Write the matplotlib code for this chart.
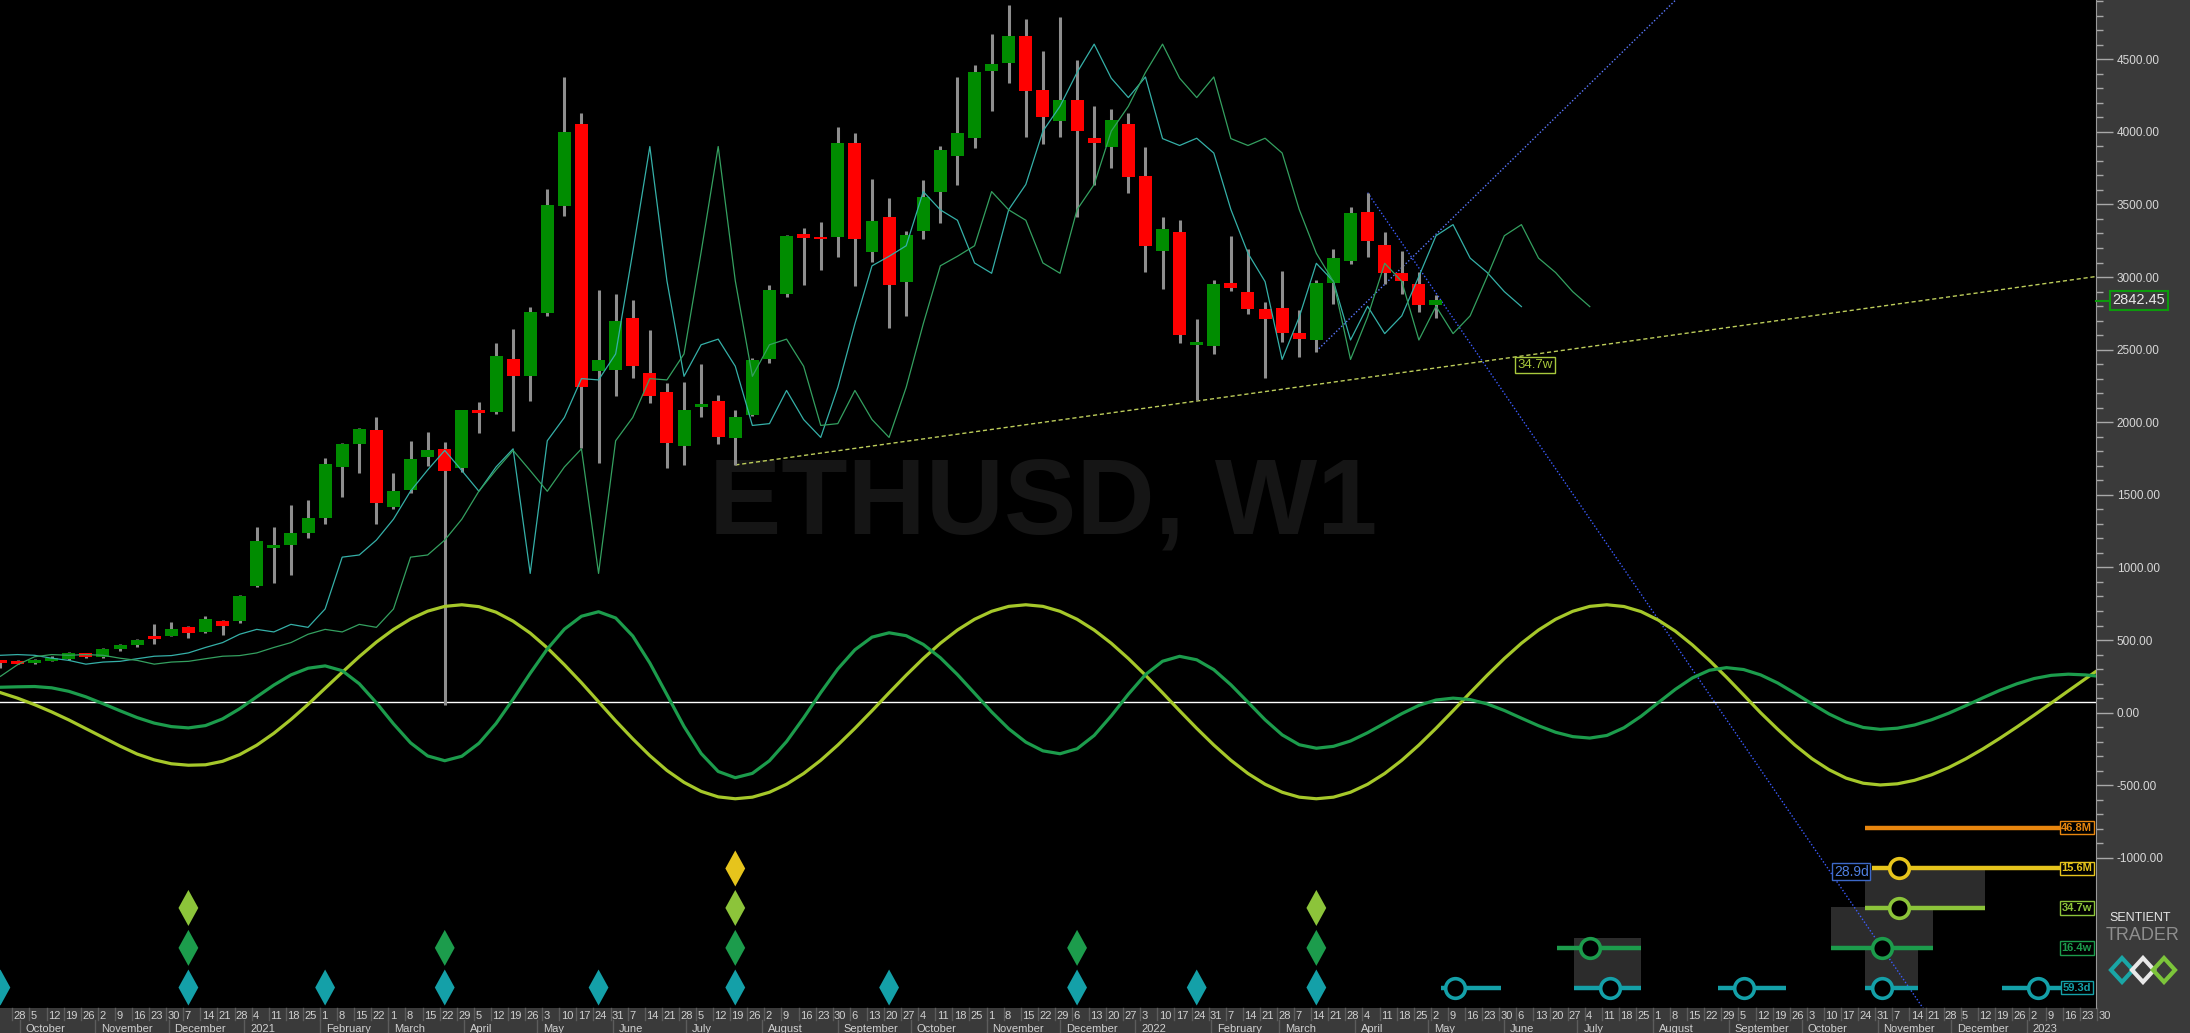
import pandas as pd
import matplotlib
matplotlib.use('Agg')
from matplotlib import pyplot as plt
from matplotlib.patches import Rectangle, Polygon
from matplotlib.lines import Line2D
from matplotlib.transforms import blended_transform_factory

plt.rcParams['font.family'] = ['Liberation Sans', 'DejaVu Sans']

# weekly bars, week index 0 = 2020-09-28, first bar is week -1
FIRST_BAR = -1
opens = [357, 352, 342, 366, 370, 408, 385, 440, 466, 520, 530, 588, 554, 634, 634, 872, 1140, 1155,
         1238, 1340, 1694, 1849, 1947, 1419, 1534, 1763, 1816, 1687, 2085, 2073, 2434, 2321, 2755, 3492,
         4054, 2355, 2360, 2716, 2337, 2207, 1839, 2110, 2147, 1894, 2050, 2437, 2884, 3297, 3274, 3278,
         3926, 3175, 3412, 2969, 3320, 3588, 3836, 3956, 4422, 4477, 4660, 4289, 4077, 4220, 3960, 3898,
         4054, 3696, 3182, 3311, 2540, 2526, 2961, 2899, 2780, 2785, 2617, 2567, 2961, 3113, 3446, 3221,
         3030, 2952, 2808]
highs = [362, 362, 372, 388, 415, 412, 448, 470, 510, 610, 622, 595, 666, 640, 808, 1277, 1277, 1429,
         1465, 1752, 1860, 1963, 2034, 1649, 1873, 1935, 1867, 2085, 2142, 2544, 2641, 2792, 3607, 4378,
         4128, 2911, 2884, 2842, 2636, 2269, 2275, 2399, 2188, 2085, 2441, 2946, 3290, 3340, 3382, 4036,
         3990, 3676, 3543, 3318, 3669, 3905, 4376, 4461, 4672, 4874, 4777, 4557, 4789, 4495, 4178, 4158,
         4128, 3893, 3411, 3393, 2712, 2980, 3283, 3194, 2830, 3042, 2773, 2980, 3194, 3481, 3581, 3311,
         3180, 3037, 2877]
lows = [306, 335, 335, 355, 362, 374, 375, 428, 455, 470, 525, 517, 550, 535, 620, 865, 895, 948,
        1200, 1300, 1483, 1649, 1300, 1400, 1511, 1699, 51, 1660, 1924, 2057, 1942, 2149, 2734, 3420,
        1821, 1722, 2183, 2303, 2135, 1687, 1706, 2039, 1849, 1706, 2040, 2410, 2865, 2946, 3049, 3141,
        2935, 3106, 2651, 2734, 3260, 3370, 3634, 3891, 4146, 4334, 3962, 3915, 3967, 3412, 3634, 3754,
        3580, 3037, 2916, 2544, 2153, 2470, 2906, 2746, 2303, 2555, 2448, 2486, 2815, 3088, 3141, 2950,
        2882, 2762, 2716]
closes = [350, 342, 366, 370, 408, 385, 440, 466, 500, 512, 577, 547, 646, 597, 804, 1183, 1148, 1235,
          1340, 1713, 1850, 1955, 1442, 1526, 1747, 1809, 1667, 2085, 2066, 2457, 2321, 2758, 3497, 3997,
          2245, 2429, 2700, 2390, 2183, 1860, 2085, 2124, 1901, 2039, 2429, 2911, 3283, 3271, 3264, 3926,
          3262, 3386, 2946, 3289, 3550, 3875, 3990, 4410, 4466, 4660, 4284, 4105, 4220, 4006, 3926, 4082,
          3691, 3216, 3331, 2601, 2550, 2952, 2927, 2780, 2711, 2613, 2571, 2961, 3130, 3439, 3251, 3030,
          2973, 2808, 2842]
last_price = 2842.45

# median prices of the weeks -10 .. -2 (feed the start of the FLD lines)
early_mids = [250, 330, 385, 400, 395, 400, 395, 375, 360]
fld_shifts = {'59.3d': 5, '16.4w': 9}

# cycle waves, one value per week from week -1
WAVE_START = -1
wave_34w = [138, 100, 55, 5, -50, -110, -170, -230, -285, -325, -352, -362,
            -359, -335, -289, -224, -142, -47, 57, 168, 278, 386, 486, 573, 645, 699, 732, 743,
            730, 692, 630, 548, 446, 330, 206, 75, -56, -180, -296, -398, -480, -542, -580, -593,
            -582, -548, -493, -419, -328, -223, -108, 13, 137, 258, 373, 478, 569, 643, 698, 732, 743,
            732, 698, 643, 569, 478, 373, 258, 137, 13, -108, -223, -328, -419, -493, -548, -582, -593,
            -582, -548, -493, -419, -328, -223, -108, 13, 137, 258, 373, 478, 569, 643, 698, 732, 743,
            731, 696, 638, 562, 467, 360, 244, 122, -1, -115, -223, -317, -393, -451, -486, -498,
            -490, -466, -428, -378, -318, -250, -176, -98, -17, 66, 150, 233, 315]
wave_16w = [175, 178, 180, 171, 147, 109, 62, 13, -34, -72, -96, -105,
            -89, -43, 27, 109, 190, 260, 306, 322,
            289, 199, 68, -77, -208, -298, -331,
            -300, -211, -75, 93, 271, 438, 575, 664, 695,
            652, 528, 342, 124, -95, -281, -405, -448,
            -418, -331, -199, -36, 138, 301, 433, 520, 550,
            530, 470, 378, 262, 134, 5, -111, -203, -263, -283,
            -249, -157, -22, 127, 262, 354, 388,
            364, 296, 192, 72, -49, -153, -221, -245,
            -232, -195, -138, -73, -7, 50, 87, 100,
            90, 60, 15, -38, -90, -135, -165, -175,
            -157, -104, -25, 68, 160, 239, 292, 310,
            297, 260, 204, 134, 61, -9, -65, -102, -115,
            -107, -85, -49, -4, 48, 102, 154, 199, 235, 257, 265, 260, 248]
wave_zero = 75

# cycle trough markers (week index)
trough_rows = {
    'yellow': [42],
    'lime': [10, 42, 76],
    'green': [10, 25, 42, 62, 76],
    'teal': [-1, 10, 18, 25, 34, 42, 51, 62, 69, 76],
}
row_levels = {'orange': -792, 'yellow': -1073, 'lime': -1345, 'green': -1620, 'teal': -1893}
row_labels = {'orange': '46.8M', 'yellow': '15.6M', 'lime': '34.7w', 'green': '16.4w', 'teal': '59.3d'}
# projected troughs: row -> list of (circle week or None, line start, line end)
projections = {
    'orange': [(None, 108.1, 119.6)],
    'yellow': [(110.1, 108.5, 119.6)],
    'lime': [(110.1, 108.1, 115.1)],
    'green': [(92.0, 90.1, 95.0), (109.1, 106.1, 112.1)],
    'teal': [(84.1, 83.3, 86.8), (93.2, 91.1, 95.0), (101.0, 99.5, 103.5),
             (109.1, 108.1, 111.2), (118.2, 116.1, 119.6)],
}
# grey range boxes (week0, week1, value0, value1)
range_boxes = [(108.1, 115.1, -1084, -1338), (106.1, 112.1, -1338, -1621),
               (108.1, 111.2, -1621, -1889), (91.1, 95.0, -1555, -1882)]

trend_34w = ([42, 121.7], [1706, 3005])
down_line = ([79, 111.5], [3581, -2035])
up_line = ([76, 98], [2490, 5020])

colors = {'orange': '#e8860e', 'yellow': '#e6c41c', 'lime': '#8cc43a',
          'green': '#1c9c4c', 'teal': '#14a0a8'}

W, H = 2190, 1033
PLOT_R, PLOT_B = 2096, 1008
X0, DX = 17.5, 17.09
Y_TOP, Y_BOT = 4908, -2034

fig = plt.figure(figsize=(W / 100, H / 100), dpi=100, facecolor='#3a3a3a')
ax = fig.add_axes([0, (H - PLOT_B) / H, PLOT_R / W, PLOT_B / H], facecolor='black')
ax.set_xlim(-X0 / DX, (PLOT_R - X0) / DX)
ax.set_ylim(Y_BOT, Y_TOP)

ax.text(60, 1430, 'ETHUSD, W1', color='#151515', fontsize=78, fontweight='bold',
        ha='center', va='center', zorder=0)

# candles
for k, (o, h, l, c) in enumerate(zip(opens, highs, lows, closes)):
    x = FIRST_BAR + k
    ax.vlines(x, l, h, color='#8e8e8e', lw=2.2, zorder=3)
    lo, hi = min(o, c), max(o, c)
    if hi - lo < 20:
        mid = (hi + lo) / 2
        lo, hi = mid - 10, mid + 10
    col = '#008c00' if c >= o else '#ff0000'
    ax.add_patch(Rectangle((x - 0.38, lo), 0.76, hi - lo, facecolor=col, edgecolor='none', zorder=4))

# FLD lines: median price pushed forward
mids = early_mids + [(h + l) / 2 for h, l in zip(highs, lows)]
mid_weeks = list(range(FIRST_BAR - len(early_mids), FIRST_BAR + len(highs)))
ax.plot([w + fld_shifts['59.3d'] for w in mid_weeks], mids, color='#35b0a8', lw=0.9, zorder=5)
ax.plot([w + fld_shifts['16.4w'] for w in mid_weeks], mids, color='#34a060', lw=0.9, zorder=5)

# trend lines
ax.plot(*trend_34w, color='#bccc5a', lw=1.0, ls=(0, (3, 2)), zorder=2)
ax.plot(*down_line, color='#3c5cff', lw=1.0, ls=(0, (1, 1.5)), zorder=2)
ax.plot(*up_line, color='#5a78ff', lw=1.0, ls=(0, (1, 1.5)), zorder=2)
ax.text(88.8, 2395, '34.7w', color='#a8c83c', fontsize=9.5, ha='center', va='center', zorder=6,
        bbox=dict(facecolor='black', edgecolor='#a8c83c', pad=1.5, lw=1))

# cycle waves
ax.axhline(wave_zero, color='white', lw=1.0, zorder=2)
ax.plot(list(range(WAVE_START, WAVE_START + len(wave_34w))), wave_34w, color='#a6c82a', lw=2.3, zorder=3)
ax.plot(list(range(WAVE_START, WAVE_START + len(wave_16w))), wave_16w, color='#1c9c4c', lw=2.3, zorder=3)

# grey boxes, projections, diamonds
for x0, x1, v0, v1 in range_boxes:
    ax.add_patch(Rectangle((x0, v1), x1 - x0, v0 - v1, facecolor='#2c2c2c', edgecolor='none', zorder=1))
for row, items in projections.items():
    y = row_levels[row]
    for cx, xs, xe in items:
        ax.plot([xs, xe], [y, y], color=colors[row], lw=3.2, solid_capstyle='butt', zorder=6)
        if cx is not None:
            ax.scatter([cx], [y], s=200, facecolor='black', edgecolor=colors[row], lw=2.6, zorder=7)
for row, weeks in trough_rows.items():
    y = row_levels[row]
    for w in weeks:
        ax.add_patch(Polygon([(w - 0.58, y), (w, y + 124), (w + 0.58, y), (w, y - 124)],
                             closed=True, facecolor=colors[row], edgecolor='none', zorder=6))
for row, lab in row_labels.items():
    ax.text(120.5, row_levels[row], lab, color=colors[row], fontsize=8, fontweight='bold',
            ha='center', va='center', zorder=8,
            bbox=dict(facecolor='black', edgecolor=colors[row], pad=1.2, lw=1))
ax.text(107.3, -1094, '28.9d', color='#4f7fe0', fontsize=10, ha='center', va='center', zorder=8,
        bbox=dict(facecolor='black', edgecolor='#3c68c8', pad=1.2, lw=1))

# right price axis
for s in ['top', 'left', 'bottom']:
    ax.spines[s].set_visible(False)
ax.spines['right'].set_color('#9a9a9a')
ax.yaxis.tick_right()
ax.set_yticks(range(-1000, 4501, 500))
ax.set_yticks(range(-1000, 4901, 100), minor=True)
ax.set_yticklabels([f'{v:.2f}' for v in range(-1000, 4501, 500)])
ax.tick_params(axis='y', which='major', length=12, width=1, color='#a8a8a8',
               labelcolor='#d8d8d8', labelsize=8.5, pad=3)
ax.tick_params(axis='y', which='minor', length=5, width=1, color='#a8a8a8')
ax.set_xticks([])

fig.text(2139 / W, 1 - 300.5 / H, f'{last_price:.2f}', color='#e8e8e8', fontsize=10.5,
         ha='center', va='center',
         bbox=dict(facecolor='#3a3a3a', edgecolor='#0c9a0c', pad=2, lw=1.5))
fig.add_artist(Line2D([PLOT_R / W, 2108 / W], [1 - 300.5 / H] * 2, color='#0c9a0c', lw=1.5))

# date axis
weeks = pd.date_range('2020-09-21', periods=124, freq='W-MON')
bt = blended_transform_factory(ax.transData, fig.transFigure)
for k, d in enumerate(weeks):
    x = FIRST_BAR + k
    fig.add_artist(Line2D([x - 0.3, x - 0.3], [1 - PLOT_B / H, 1 - 1020 / H], transform=bt,
                          color='#5c5c5c', lw=1))
    if k > 0:
        fig.text(x - 0.22, 1 - 1016 / H, str(d.day), transform=bt, color='#d0d0d0', fontsize=8,
                 ha='left', va='center')
month_starts = pd.date_range('2020-10-01', '2023-01-01', freq='MS')
for m in month_starts:
    x = (m - pd.Timestamp('2020-09-28')).days / 7 - 0.3
    lab = str(m.year) if m.month == 1 else m.strftime('%B')
    fig.add_artist(Line2D([x, x], [1 - 1020 / H, 0], transform=bt, color='#5c5c5c', lw=1))
    fig.text(x + 0.35, 1 - 1029 / H, lab, transform=bt, color='#d0d0d0', fontsize=8,
             ha='left', va='center')

# logo
fig.text(2140 / W, 1 - 918 / H, 'SENTIENT', color='#e6e6e6', fontsize=9, ha='center', va='center')
fig.text(2143 / W, 1 - 935 / H, 'TRADER', color='#8e8e8e', fontsize=13, ha='center', va='center')
for cx, col in [(2122, '#1aa6a6'), (2143, '#e8e8e8'), (2164, '#7cc43a')]:
    fig.add_artist(Polygon([((cx - 11) / W, 1 - 970 / H), (cx / W, 1 - 958 / H),
                            ((cx + 11) / W, 1 - 970 / H), (cx / W, 1 - 982 / H)],
                           closed=True, fill=False, edgecolor=col, lw=3))

fig.savefig('out.png', dpi=100, facecolor=fig.get_facecolor())
